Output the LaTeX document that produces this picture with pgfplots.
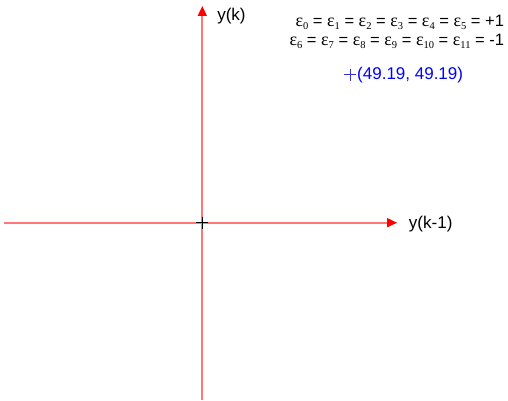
\documentclass[border=0pt]{standalone}
\usepackage{pgfplots}
\pgfplotsset{compat=1.18}
\usetikzlibrary{arrows.meta}
\usepackage{fontspec}
\setmainfont{Liberation Sans}
\newfontfamily\symfont{Liberation Serif}
\definecolor{axisred}{RGB}{255,120,120}
\newcommand{\eps}[1]{{\symfont\fontsize{18}{20}\selectfont ε\raisebox{-0.35ex}{\fontsize{10.5}{12}\selectfont #1}}}
\begin{document}
\begin{tikzpicture}
\begin{axis}[
  scale only axis,
  width=508pt, height=401pt,
  xmin=-67.21, xmax=101.56,
  ymin=-59.24, ymax=73.99,
  hide axis,
  clip=false,
]
% bounding frame of the picture
\path[use as bounding box] (rel axis cs:0,0) rectangle (rel axis cs:1,1);
% phase-plane axes
\addplot[axisred, line width=1.7pt, -{Triangle[length=10pt,width=9pt,red,fill=red]}]
  coordinates {(-65.88,0) (64.7,0)};
\addplot[axisred, line width=1.7pt, -{Triangle[length=10pt,width=9pt,red,fill=red]}]
  coordinates {(0,-58.9) (0,72.0)};
% origin and fixed point
\addplot[only marks, mark=+, mark size=6pt, black, line width=0.9pt]
  coordinates {(0,0)};
\addplot[only marks, mark=+, mark size=6pt, blue!60!gray, line width=0.8pt]
  coordinates {(49.19,49.19)};
\node[anchor=west, font=\fontsize{17}{19}\selectfont, inner sep=0pt] at (axis cs:4.9,68.5) {y(k)};
\node[anchor=west, font=\fontsize{17}{19}\selectfont, inner sep=0pt] at (axis cs:68.6,-0.4) {y(k-1)};
\node[anchor=west, font=\fontsize{17}{19}\selectfont, text=blue, inner sep=0pt] at (axis cs:51.4,49.0) {(49.19, 49.19)};
\node[anchor=base east, font=\fontsize{16.5}{19}\selectfont, inner sep=0pt] at (axis cs:100.3,65.3)
  {\eps{0} = \eps{1} = \eps{2} = \eps{3} = \eps{4} = \eps{5} = +1};
\node[anchor=base east, font=\fontsize{16.5}{19}\selectfont, inner sep=0pt] at (axis cs:100.3,59.0)
  {\eps{6} = \eps{7} = \eps{8} = \eps{9} = \eps{10} = \eps{11} = -1};
\end{axis}
\end{tikzpicture}
\end{document}
